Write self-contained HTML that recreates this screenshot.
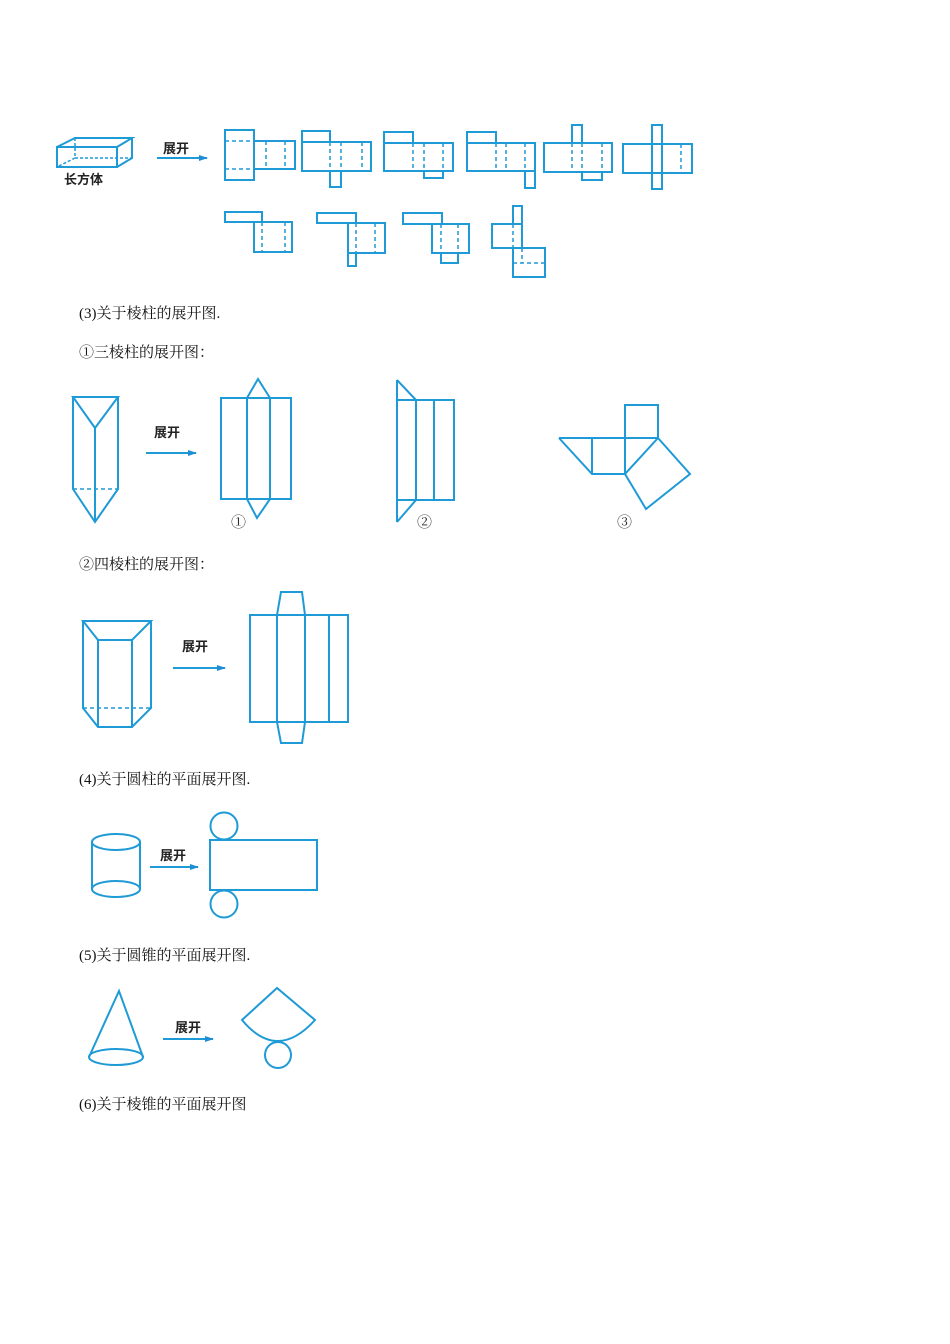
<!DOCTYPE html>
<html><head><meta charset="utf-8"><style>
html,body{margin:0;padding:0;background:#fff;}
svg{display:block;}
.t{font-family:"Liberation Serif","Noto Serif CJK SC",serif;font-size:15px;fill:#111;}
.l{font-family:"Liberation Sans","Noto Sans CJK SC",sans-serif;font-size:13px;font-weight:bold;fill:#222;}
.n{font-family:"Liberation Serif","Noto Serif CJK SC",serif;font-size:15px;fill:#222;}
</style></head><body>
<svg width="950" height="1344" viewBox="0 0 950 1344" xmlns="http://www.w3.org/2000/svg">
<defs><marker id="ah" markerUnits="userSpaceOnUse" markerWidth="9" markerHeight="6" refX="8" refY="3" orient="auto"><path d="M0,0 L9,3 L0,6 Z" fill="#1e8fd6"/></marker></defs>
<g fill="none" stroke="#1e9ad6" stroke-width="2">
<rect x="57" y="147" width="60" height="20"/>
<path d="M57,147 L75,138 L132,138 L117,147 M132,138 L132,158 L117,167"/>
<path d="M75,138 L75,158 L57,167 M75,158 L132,158" stroke-dasharray="3,2" stroke-width="1.5"/>
<line x1="157" y1="158" x2="207" y2="158" marker-end="url(#ah)"/>
<rect x="225" y="130" width="29" height="50"/>
<rect x="254" y="141" width="41" height="28"/>
<g stroke-dasharray="4,3" stroke-width="1.5"><path d="M225,141H254M225,169H254M266,141V169M285,141V169"/></g>
<rect x="302" y="131" width="28" height="11"/>
<rect x="302" y="142" width="69" height="29"/>
<rect x="330" y="171" width="11" height="16"/>
<g stroke-dasharray="4,3" stroke-width="1.5"><path d="M330,142V171M341,142V171M362,142V171"/></g>
<rect x="384" y="132" width="29" height="11"/>
<rect x="384" y="143" width="69" height="28"/>
<rect x="424" y="171" width="19" height="7"/>
<g stroke-dasharray="4,3" stroke-width="1.5"><path d="M413,143V171M424,143V171M443,143V171"/></g>
<rect x="467" y="132" width="29" height="11"/>
<rect x="467" y="143" width="68" height="28"/>
<rect x="525" y="171" width="10" height="17"/>
<g stroke-dasharray="4,3" stroke-width="1.5"><path d="M496,143V171M506,143V171M525,143V171"/></g>
<rect x="572" y="125" width="10" height="18"/>
<rect x="544" y="143" width="68" height="29"/>
<rect x="582" y="172" width="20" height="8"/>
<g stroke-dasharray="4,3" stroke-width="1.5"><path d="M572,143V172M582,143V172M602,143V172"/></g>
<rect x="623" y="144" width="69" height="29"/>
<rect x="652" y="125" width="10" height="64"/>
<g stroke-dasharray="4,3" stroke-width="1.5"><path d="M681,144V173"/></g>
<rect x="225" y="212" width="37" height="10"/>
<rect x="254" y="222" width="38" height="30"/>
<g stroke-dasharray="4,3" stroke-width="1.5"><path d="M262,222V252M285,222V252"/></g>
<rect x="317" y="213" width="39" height="10"/>
<rect x="348" y="223" width="37" height="30"/>
<rect x="348" y="253" width="8" height="13"/>
<g stroke-dasharray="4,3" stroke-width="1.5"><path d="M356,223V253M375,223V253"/></g>
<rect x="403" y="213" width="39" height="11"/>
<rect x="432" y="224" width="37" height="29"/>
<rect x="441" y="253" width="17" height="10"/>
<g stroke-dasharray="4,3" stroke-width="1.5"><path d="M441,224V253M458,224V253"/></g>
<rect x="513" y="206" width="9" height="18"/>
<rect x="492" y="224" width="30" height="24"/>
<rect x="513" y="248" width="32" height="29"/>
<g stroke-dasharray="4,3" stroke-width="1.5"><path d="M513,224V248M522,248V263M513,263H545"/></g>

<path d="M73,397 L118,397 L95,428 Z M73,397 V489 L95,522 L118,489 V397 M95,428 V522"/>
<line x1="73" y1="489" x2="118" y2="489" stroke-dasharray="4,3" stroke-width="1.5"/>
<line x1="146" y1="453" x2="196" y2="453" marker-end="url(#ah)"/>
<rect x="221" y="398" width="70" height="101"/>
<path d="M247,398 V499 M270,398 V499 M247,398 L258,379 L270,398 M247,499 L257,518 L270,499"/>
<rect x="397" y="400" width="57" height="100"/>
<path d="M416,400 V500 M434,400 V500 M397,380 V522 M397,380 L416,400 M416,500 L397,522"/>
<rect x="625" y="405" width="33" height="33"/>
<path d="M559,438 H658 M559,438 L592,474 H625 V438 M592,438 V474 M658,438 L690,474 L646,509 L625,474 Z"/>

<path d="M83,621 H151 L132,640 H98 Z M83,621 V708 L98,727 H132 L151,708 V621 M98,640 V727 M132,640 V727"/>
<line x1="83" y1="708" x2="151" y2="708" stroke-dasharray="4,3" stroke-width="1.5"/>
<line x1="173" y1="668" x2="225" y2="668" marker-end="url(#ah)"/>
<rect x="250" y="615" width="98" height="107"/>
<path d="M277,615 V722 M305,615 V722 M329,615 V722 M277,615 L281,592 H302 L305,615 M277,722 L281,743 H302 L305,722"/>

<ellipse cx="116" cy="842" rx="24" ry="8"/>
<ellipse cx="116" cy="889" rx="24" ry="8"/>
<path d="M92,842 V889 M140,842 V889"/>
<line x1="150" y1="867" x2="198" y2="867" marker-end="url(#ah)"/>
<rect x="210" y="840" width="107" height="50"/>
<circle cx="224" cy="826" r="13.5"/>
<circle cx="224" cy="904" r="13.5"/>

<ellipse cx="116" cy="1057" rx="27" ry="8"/>
<path d="M89,1057 L119,991 L143,1057"/>
<line x1="163" y1="1039" x2="213" y2="1039" marker-end="url(#ah)"/>
<path d="M277,988 L242,1020 Q277,1062 315,1020 Z"/>
<circle cx="278" cy="1055" r="13"/>
</g>

<text class="l" x="163" y="153">展开</text>
<text class="l" x="64" y="184">长方体</text>
<text class="l" x="154" y="437">展开</text>
<text class="l" x="182" y="651">展开</text>
<text class="l" x="160" y="860">展开</text>
<text class="l" x="175" y="1032">展开</text>
<text class="n" x="231" y="527">①</text>
<text class="n" x="417" y="527">②</text>
<text class="n" x="617" y="527">③</text>

<text class="t" x="79" y="318">(3)关于棱柱的展开图.</text>
<text class="t" x="79" y="357">①三棱柱的展开图：</text>
<text class="t" x="79" y="569">②四棱柱的展开图：</text>
<text class="t" x="79" y="784">(4)关于圆柱的平面展开图.</text>
<text class="t" x="79" y="960">(5)关于圆锥的平面展开图.</text>
<text class="t" x="79" y="1109">(6)关于棱锥的平面展开图</text>
</svg>
</body></html>
